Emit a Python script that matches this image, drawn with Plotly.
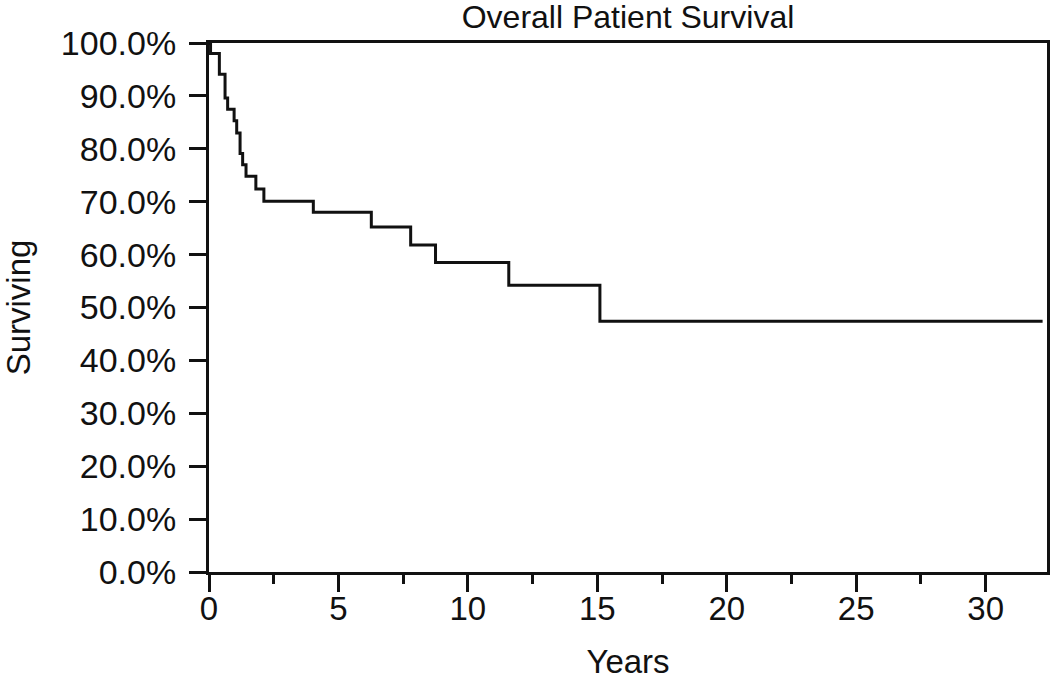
import plotly.graph_objects as go

# Kaplan-Meier step points
years = [0, 0.06, 0.40, 0.62, 0.72, 0.97, 1.07, 1.20, 1.30, 1.43, 1.81, 2.12,
         4.03, 6.27, 7.79, 8.75, 11.58, 15.10, 32.2]
surviving = [100.0, 98.0, 94.1, 89.6, 87.5, 85.3, 83.0, 79.1, 77.0, 74.8, 72.4, 70.1,
             68.0, 65.2, 61.8, 58.5, 54.2, 47.4, 47.4]

x_ticks = [0, 5, 10, 15, 20, 25, 30]
y_ticks = [0, 10, 20, 30, 40, 50, 60, 70, 80, 90, 100]

FONT = "Liberation Sans, Arial, sans-serif"

fig = go.Figure()
fig.add_trace(go.Scatter(
    x=years, y=surviving, mode="lines", line_shape="hv",
    line=dict(color="#111111", width=3), showlegend=False, hoverinfo="skip"))

fig.update_layout(
    width=1050, height=680,
    margin=dict(l=209, r=3, t=43, b=108),
    paper_bgcolor="white", plot_bgcolor="white",
    font=dict(family=FONT, color="#111111", size=33),
    title=dict(text="Overall Patient Survival", x=628 / 1050, xanchor="center",
               y=1 - 17 / 680, yanchor="middle", yref="container",
               font=dict(family=FONT, size=32, color="#111111")),
)
fig.update_xaxes(
    range=[0, 32.37], tickmode="array", tickvals=x_ticks, automargin=False,
    ticks="outside", ticklen=17, tickwidth=3, tickcolor="#111111",
    showline=True, linewidth=3, linecolor="#111111", mirror=True,
    showgrid=False, zeroline=False,
    minor=dict(tickvals=[2.5, 7.5, 12.5, 17.5, 22.5, 27.5], ticks="outside",
               ticklen=9, tickwidth=3, tickcolor="#111111", showgrid=False),
    tickfont=dict(size=33), ticklabelstandoff=-12,
    title=dict(text="Years", font=dict(size=33), standoff=27),
)
fig.update_yaxes(
    range=[0, 100], tickmode="array", tickvals=y_ticks, automargin=False,
    ticktext=[f"{v:.1f}%" for v in y_ticks],
    ticks="outside", ticklen=17, tickwidth=3, tickcolor="#111111",
    showline=True, linewidth=3, linecolor="#111111", mirror=True,
    showgrid=False, zeroline=False,
    tickfont=dict(size=34), ticklabelstandoff=6,
    title=dict(text="Surviving", font=dict(size=33), standoff=32),
)

fig.write_html("out.html", config={"displayModeBar": False},
               post_script="document.body.style.margin='0';document.body.style.overflow='hidden';")
